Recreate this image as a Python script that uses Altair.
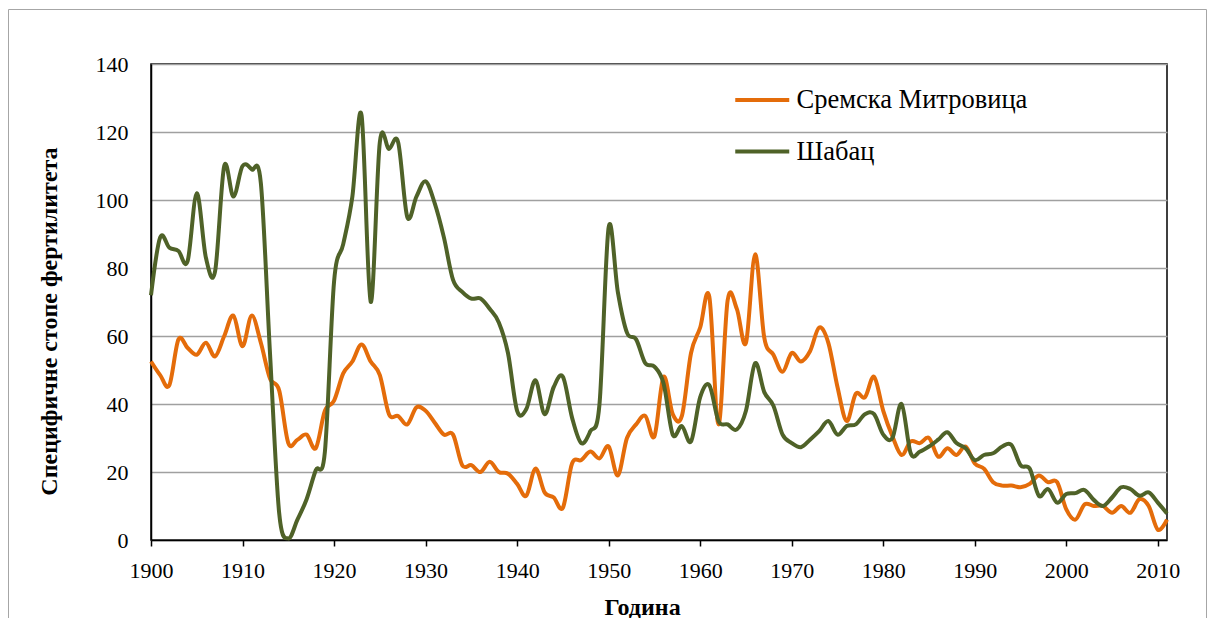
import altair as alt
import pandas as pd

years = list(range(1900, 2012))

sremska = [
    52.5, 48.5, 45.5, 59, 56.5, 54.5, 58, 54, 60, 66,        # 1900-1909
    57, 66, 58, 47.5, 44, 28.5, 29.5, 31, 27, 38,            # 1910-1919
    41, 49, 52.5, 57.5, 52.5, 48.5, 37, 36.5, 34, 39,        # 1920-1929
    38, 34.5, 31, 31, 22, 22, 20, 23, 20, 19.5,              # 1930-1939
    16.5, 13, 21, 14, 12.5, 9.5, 22.5, 23.5, 26, 24,         # 1940-1949
    27.5, 19, 30, 34, 36.5, 30.5, 48, 37, 36.5, 55,          # 1950-1959
    62.5, 71.5, 34, 70.5, 68, 58, 84, 59.5, 54.5, 49.5,      # 1960-1969
    55, 52.5, 55.5, 62.5, 58, 45, 35, 43, 42, 48,            # 1970-1979
    38, 30.5, 25, 29, 28.5, 30, 24.5, 27, 25, 27.5,          # 1980-1989
    22.5, 21, 17, 16, 16, 15.5, 16.5, 19, 17, 17,            # 1990-1999
    9, 6, 10.5, 10, 10, 8, 10, 8, 12, 10,                    # 2000-2009
    3, 6,                                                    # 2010-2011
]

sabac = [
    72, 89, 86, 85, 82, 102, 83, 79, 110, 101,               # 1900-1909
    110, 109, 105, 55, 8, 0.5, 6, 12, 20.5, 26,              # 1910-1919
    76, 87, 101, 125, 70, 117, 115, 117, 95, 101,            # 1920-1929
    105.5, 99, 89, 76.5, 73, 71, 71, 68, 64, 55,             # 1930-1939
    38, 38.5, 47, 37, 45, 48, 36, 28.5, 32, 40,              # 1940-1949
    92, 73, 61, 59, 52, 51, 46, 31, 33.5, 29,                # 1950-1959
    42, 45.5, 35, 34, 32.5, 38, 52, 43.5, 39.5, 31,          # 1960-1969
    28.5, 27.3, 29.5, 32, 35, 31, 33.5, 34, 37, 37,          # 1970-1979
    31, 30, 40, 25.5, 26, 27.5, 29.5, 31.7, 28.5, 27,        # 1980-1989
    23.5, 25, 25.5, 27.5, 28, 22, 21, 13, 15, 11,            # 1990-1999
    13.5, 13.8, 14.7, 11.8, 10, 12.5, 15.5, 15, 13, 14,      # 2000-2009
    11, 7.8,                                                 # 2010-2011
]

series_names = ["Сремска Митровица", "Шабац"]
series_colors = ["#E46C0A", "#4F6228"]

x_ticks = list(range(1900, 2011, 10))
y_ticks = list(range(0, 141, 20))

df = pd.concat([
    pd.DataFrame({"year": years, "value": sremska, "series": series_names[0]}),
    pd.DataFrame({"year": years, "value": sabac, "series": series_names[1]}),
])

FONT = "Liberation Serif"

lines = alt.Chart(df).mark_line(interpolate="cardinal", strokeWidth=4).encode(
    x=alt.X(
        "year:Q",
        scale=alt.Scale(domain=[1900, 2011], nice=False, zero=False),
        axis=alt.Axis(
            values=x_ticks, format="d", grid=False,
            title="Година", titleFont=FONT, titleFontSize=24, titleFontWeight="bold",
            titleColor="black", titleX=491, titleY=74, titleAlign="center",
            titleBaseline="alphabetic",
            labelFont=FONT, labelFontSize=22, labelColor="black",
            labelBaseline="alphabetic", labelPadding=31, labelFlush=False,
            ticks=True, tickSize=6, tickWidth=1.5, tickColor="black",
            domainColor="black", domainWidth=1.5,
        ),
    ),
    y=alt.Y(
        "value:Q",
        scale=alt.Scale(domain=[0, 140], nice=False),
        axis=alt.Axis(
            values=y_ticks, grid=True, gridColor="#A0A0A0", gridWidth=1.5,
            title="Специфичне стопе фертилитета", titleFont=FONT, titleFontSize=24,
            titleFontWeight="bold", titleColor="black", titleX=-95, titleY=257,
            titleAngle=270, titleAlign="center", titleBaseline="alphabetic",
            labelFont=FONT, labelFontSize=22, labelColor="black",
            labelBaseline="middle", labelPadding=23,
            ticks=False, tickSize=0,
            domainColor="black", domainWidth=1.5,
        ),
    ),
    color=alt.Color(
        "series:N",
        scale=alt.Scale(domain=series_names, range=series_colors),
        sort=series_names,
        legend=alt.Legend(
            title=None, orient="none", legendX=598, legendY=22.75, padding=0,
            symbolType="M-2.7,0H2.7", symbolSize=400, symbolStrokeWidth=4,
            labelFont=FONT, labelFontSize=26.5, labelColor="black", labelLimit=500,
            labelOffset=21, rowPadding=24.5,
        ),
    ),
    detail="series:N",
)

frame = alt.Chart(alt.Data(values=[{"a": 1}])).mark_rect(
    fill="transparent", stroke="#A6A6A6", strokeWidth=1
).encode(
    x=alt.value(-142.5), x2=alt.value(1055.5),
    y=alt.value(-54.5), y2=alt.value(600),
)

chart = alt.layer(frame, lines).properties(
    width=1016, height=476,
    autosize=alt.AutoSizeParams(type="none"),
    padding={"left": 143, "top": 56, "right": 40, "bottom": 78},
    background="white",
).configure_view(stroke="black", strokeWidth=1.5)

chart.save("out.html", embed_options={"renderer": "svg", "actions": False})
